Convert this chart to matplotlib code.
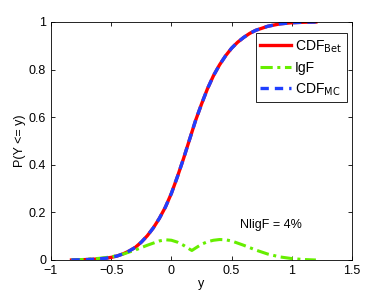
import matplotlib
matplotlib.use("Agg")
import matplotlib.pyplot as plt

plt.rcParams['font.family'] = ['Liberation Sans', 'DejaVu Sans']

# CDF from the Bethe approximation and from Monte Carlo (same curve)
y_cdf = [-0.83, -0.75, -0.7, -0.65, -0.6, -0.55, -0.5, -0.45, -0.4, -0.35, -0.3,
         -0.25, -0.2, -0.15, -0.1, -0.05, 0.0, 0.05, 0.1, 0.15, 0.2, 0.25, 0.3,
         0.35, 0.4, 0.45, 0.5, 0.55, 0.6, 0.65, 0.7, 0.8, 0.9, 1.0, 1.1, 1.2]
cdf_bet = [0.0, 0.001, 0.002, 0.003, 0.005, 0.007, 0.011, 0.017, 0.026, 0.038, 0.053,
           0.075, 0.102, 0.135, 0.175, 0.222, 0.28, 0.35, 0.425, 0.505, 0.585, 0.655, 0.72,
           0.775, 0.82, 0.858, 0.89, 0.915, 0.935, 0.952, 0.965, 0.982, 0.992, 0.997, 0.999, 1.0]
cdf_mc = cdf_bet

# IgF curve
y_igf = [-0.83, -0.7, -0.6, -0.5, -0.4, -0.3, -0.2, -0.1, -0.05, 0.0, 0.05, 0.1,
         0.15, 0.17, 0.2, 0.25, 0.3, 0.35, 0.4, 0.45, 0.5, 0.6, 0.7, 0.8, 0.9, 1.0, 1.1, 1.2]
igf = [0.0, 0.003, 0.007, 0.013, 0.025, 0.042, 0.062, 0.08, 0.085, 0.083, 0.075, 0.062,
       0.046, 0.04, 0.05, 0.066, 0.077, 0.083, 0.086, 0.085, 0.08, 0.062, 0.042, 0.025,
       0.013, 0.006, 0.002, 0.0]

fig = plt.figure(figsize=(3.88, 2.92), dpi=100)
ax = fig.add_axes((51/388, 32/292, 301/388, 238/292))

ax.plot(y_cdf, cdf_bet, color='#ff0000', lw=2.4, label=r'CDF$_{\mathrm{Bet}}$')
ax.plot(y_igf, igf, color='#66ee00', lw=2.2, linestyle=(0, (4, 1.5, 1, 1.5)), label='IgF')
ax.plot(y_cdf, cdf_mc, color='#1f3fff', lw=2.4, linestyle=(0, (2.5, 1.8)), label=r'CDF$_{\mathrm{MC}}$')

ax.text(0.57, 0.147, 'NligF = 4%', fontsize=9, va='center')

ax.set_xlim(-1, 1.5)
ax.set_ylim(0, 1)
ax.set_xticks([-1, -0.5, 0, 0.5, 1, 1.5])
ax.set_xticklabels(['\u22121', '\u22120.5', '0', '0.5', '1', '1.5'])
ax.set_yticks([0, 0.2, 0.4, 0.6, 0.8, 1])
ax.set_yticklabels(['0', '0.2', '0.4', '0.6', '0.8', '1'])
ax.tick_params(direction='in', top=True, right=True, labelsize=9, length=3, width=0.6)
for s in ax.spines.values():
    s.set_linewidth(0.6)
ax.set_xlabel('y', fontsize=9, labelpad=1)
ax.set_ylabel('P(Y <= y)', fontsize=9, labelpad=2)

leg = ax.legend(loc='upper right', bbox_to_anchor=(0.983, 0.952), fontsize=10,
                fancybox=False, framealpha=1, edgecolor='black', handlelength=2.2,
                borderpad=0.35, labelspacing=0.45, handletextpad=0.3, borderaxespad=0)
leg.get_frame().set_linewidth(0.6)

fig.savefig('out.png', dpi=100)
